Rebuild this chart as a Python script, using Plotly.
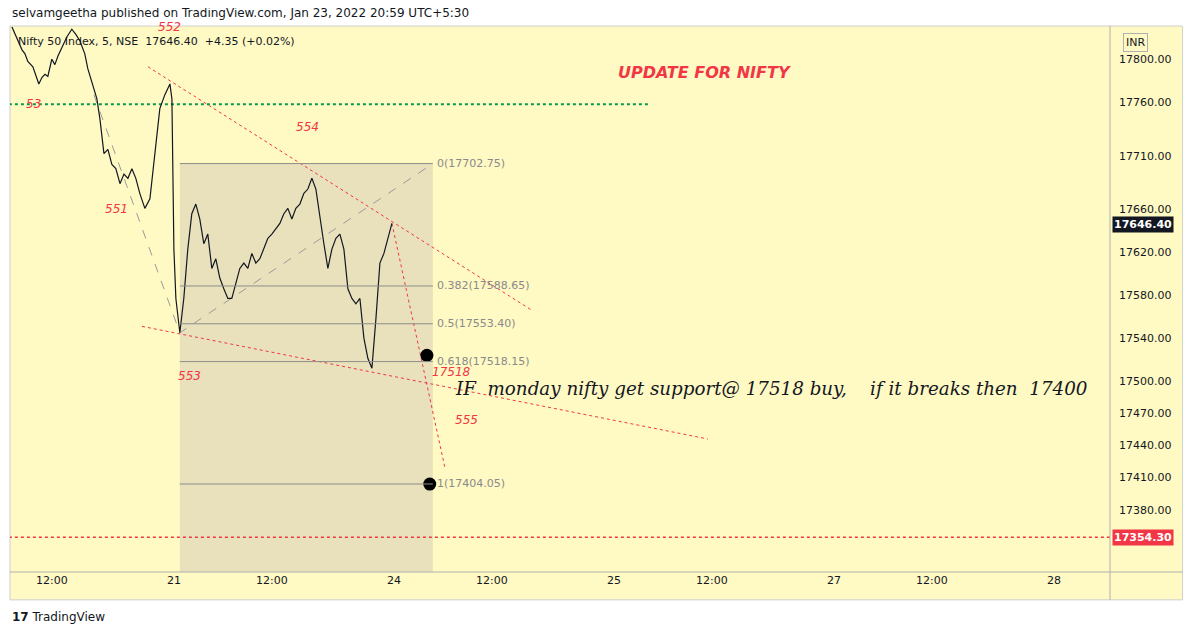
import plotly.graph_objects as go

# time axis: 0 = Jan 21 open, 1 = Jan 24 open, one trading day = 1 unit
tick_vals = [-0.555, 0, 0.445, 1, 1.445, 2, 2.445, 3, 3.445, 4]
tick_text = ["12:00", "21", "12:00", "24", "12:00", "25", "12:00", "27", "12:00", "28"]
price_ticks = [17800, 17760, 17710, 17660, 17620, 17580, 17540, 17500, 17470, 17440, 17410, 17380]

t_early = [-0.736, -0.714, -0.691, -0.677, -0.664, -0.641, -0.614, -0.6, -0.586, -0.573,
           -0.555, -0.541, -0.527, -0.509, -0.486, -0.464, -0.445, -0.427, -0.405, -0.391,
           -0.373, -0.35, -0.336, -0.318, -0.3, -0.282, -0.264, -0.245, -0.227, -0.209,
           -0.191, -0.173, -0.155, -0.132, -0.109, -0.086, -0.064, -0.041, -0.018, -0.009,
           0.0, 0.009, 0.027]
p_early = [17830, 17820, 17809, 17805, 17798, 17793, 17777, 17783, 17786, 17784,
           17800, 17795, 17803, 17811, 17821, 17828, 17823, 17817, 17805, 17791,
           17779, 17763, 17744, 17712, 17716, 17702, 17698, 17684, 17693, 17689,
           17698, 17689, 17675, 17661, 17670, 17716, 17754, 17767, 17777, 17763,
           17623, 17577, 17545]
p_late = [17577, 17623, 17656, 17665, 17651, 17628, 17637, 17605, 17614, 17596,
          17586, 17577, 17577, 17591, 17605, 17610, 17605, 17619, 17610, 17614,
          17623, 17633, 17637, 17642, 17647, 17656, 17661, 17651, 17661, 17665,
          17675, 17679, 17689, 17679, 17651, 17628, 17605, 17623, 17633, 17637,
          17623, 17586, 17577, 17572, 17577, 17540, 17521, 17512, 17558, 17610,
          17619, 17633, 17647]
t_late = [0.045 + i * (0.991 - 0.045) / (len(p_late) - 1) for i in range(len(p_late))]

fib_levels = [17702.75, 17588.65, 17553.40, 17518.15, 17404.05]
fib_names = ["0", "0.382", "0.5", "0.618", "1"]
fib_t0, fib_t1 = 0.027, 1.177
last_price = 17646.40
green_level = 17758
red_level = 17354.30

YEL = "#fff9c4"
RED = "#f23645"
SANS = "DejaVu Sans"

fig = go.Figure()

# fib box
fig.add_shape(type="rect", x0=fib_t0, x1=fib_t1, y0=17300, y1=fib_levels[0],
              fillcolor="#e9e1bb", line_width=0, layer="below")
for lv, nm in zip(fib_levels, fib_names):
    fig.add_shape(type="line", x0=fib_t0, x1=fib_t1, y0=lv, y1=lv,
                  line=dict(color="#8c8c8c", width=1))
    fig.add_annotation(x=fib_t1, y=lv, text=f"{nm}({lv:.2f})", showarrow=False,
                       xanchor="left", xshift=2, font=dict(size=11, color="#8a8a8a"))

# dashed gray trend lines
fig.add_trace(go.Scatter(x=[-0.364, 0.027, fib_t1], y=[17767, 17545, fib_levels[0]],
                         mode="lines", line=dict(color="#9a9a9a", width=1, dash="dash"),
                         hoverinfo="skip"))

# red dotted lines
for xs, ys in [([-0.118, 1.627], [17793, 17566]),
               ([-0.145, 2.427], [17551, 17446]),
               ([0.991, 1.232], [17647, 17419])]:
    fig.add_trace(go.Scatter(x=xs, y=ys, mode="lines", hoverinfo="skip",
                             line=dict(color=RED, width=1, dash="dot")))

fig.add_trace(go.Scatter(x=[-0.75, 2.155], y=[green_level] * 2, mode="lines",
                         line=dict(color="#089950", width=2, dash="dot"), hoverinfo="skip"))
fig.add_trace(go.Scatter(x=[-0.75, 4.3], y=[red_level] * 2, mode="lines",
                         line=dict(color=RED, width=1.5, dash="dot"), hoverinfo="skip"))

# price
fig.add_trace(go.Scatter(x=t_early + t_late, y=p_early + p_late, mode="lines",
                         line=dict(color="#131722", width=1.2)))

# dots
fig.add_trace(go.Scatter(x=[1.15, 1.163], y=[17524, 17404], mode="markers",
                         marker=dict(color="black", size=13)))

labels = [(-0.64, 17758, "53"), (-0.02, 17830, "552"), (-0.26, 17660, "551"),
          (0.609, 17737, "554"), (0.073, 17505, "553"), (1.332, 17464, "555"),
          (1.26, 17508, "17518")]
for x, y, s in labels:
    fig.add_annotation(x=x, y=y, text=f"<i>{s}</i>", showarrow=False,
                       font=dict(size=12, color=RED, family=SANS))
fig.add_annotation(x=2.413, y=17788, text="<b><i>UPDATE FOR NIFTY</i></b>", showarrow=False,
                   font=dict(size=16, color=RED, family=SANS))
fig.add_annotation(x=2.715, y=17493, showarrow=False,
                   text="<i>IF  monday nifty get support@ 17518 buy,    if it breaks then  17400</i>",
                   font=dict(size=18.3, color="#131722", family="DejaVu Serif"))

# price axis labels
fig.add_annotation(x=1, xref="paper", y=last_price, text="<b>17646.40</b>", showarrow=False,
                   xanchor="left", xshift=2, bgcolor="#131722", font=dict(size=11, color="white"))
fig.add_annotation(x=1, xref="paper", y=red_level, text="<b>17354.30</b>", showarrow=False,
                   xanchor="left", xshift=2, bgcolor=RED, font=dict(size=11, color="white"))

# header / footer
fig.add_annotation(x=0, y=1.024, xref="paper", yref="paper", xanchor="left", yanchor="middle",
                   text="selvamgeetha published on TradingView.com, Jan 23, 2022 20:59 UTC+5:30",
                   showarrow=False, font=dict(size=12, color="#131722"))
fig.add_annotation(x=0, y=0.9725, xref="paper", yref="paper", xanchor="left", yanchor="middle",
                   xshift=6, text="Nifty 50 Index, 5, NSE  17646.40  +4.35 (+0.02%)",
                   showarrow=False, font=dict(size=11, color="#131722"))
fig.add_annotation(x=1.0345, y=0.969, xref="paper", yref="paper", yanchor="middle",
                   text="INR", showarrow=False,
                   bordercolor="#b0b0b0", borderwidth=1, borderpad=2,
                   font=dict(size=11, color="#131722"))
fig.add_annotation(x=0, y=-0.082, xref="paper", yref="paper", xanchor="left", yanchor="middle",
                   text="<b>17</b> TradingView", showarrow=False,
                   font=dict(size=12, color="#131722"))

# yellow frame incl. axes
fig.add_shape(type="rect", xref="paper", yref="paper", x0=0, x1=1.066, y0=-0.051, y1=1,
              fillcolor=YEL, line=dict(color="#cfcfcf", width=1), layer="below")
fig.add_shape(type="line", xref="paper", yref="paper", x0=1, x1=1, y0=-0.051, y1=1,
              line=dict(color="#b0b0b0", width=1))
fig.add_shape(type="line", xref="paper", yref="paper", x0=0, x1=1.066, y0=0, y1=0,
              line=dict(color="#b0b0b0", width=1))

fig.update_layout(
    width=1194, height=635, showlegend=False,
    margin=dict(l=2, r=92, t=18, b=71),
    paper_bgcolor="white", plot_bgcolor="rgba(0,0,0,0)",
    font=dict(family=SANS, size=11, color="#131722"),
    xaxis=dict(range=[-0.745, 4.255], tickvals=tick_vals, ticktext=tick_text,
               showgrid=False, zeroline=False, ticks="", tickfont=dict(size=11)),
    yaxis=dict(range=[17322, 17831], side="right", tickvals=price_ticks,
               ticktext=[f"{v:.2f}" for v in price_ticks], showgrid=False,
               zeroline=False, ticks="", ticklabelstandoff=8, tickfont=dict(size=11)),
)

fig.write_html("out.html")
